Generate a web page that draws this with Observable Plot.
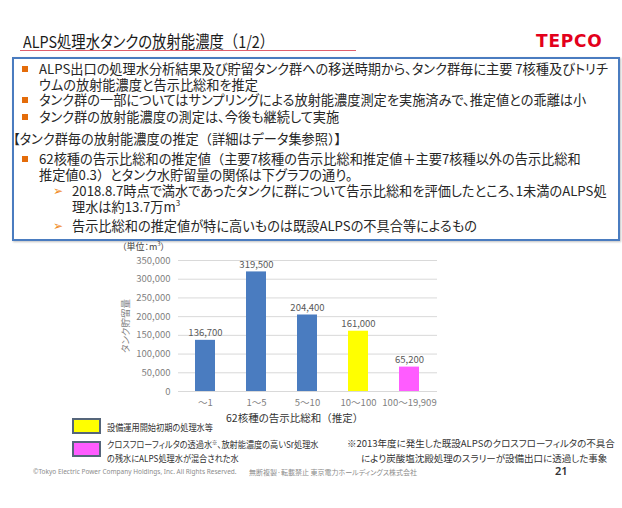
<!DOCTYPE html>
<html><head><meta charset="utf-8">
<script src="https://cdn.jsdelivr.net/npm/d3@7"></script>
<script src="https://cdn.jsdelivr.net/npm/@observablehq/plot@0.6"></script>
<style>
html,body{margin:0;padding:0;background:#fff;}
#page{position:relative;width:622px;height:508px;overflow:hidden;font-family:"Noto Sans CJK JP","Noto Sans",sans-serif;color:#262626;font-feature-settings:"palt" 1;}
.abs{position:absolute;white-space:nowrap;}
.ln{position:absolute;white-space:nowrap;font-size:13.2px;line-height:16px;height:16px;}
.fw{font-feature-settings:normal;}
.sq{position:absolute;width:6px;height:6px;background:#e46c0a;}
.arr{position:absolute;font-family:"DejaVu Sans",sans-serif;color:#f08a24;font-size:12px;line-height:16px;}
#chart{position:absolute;left:0;top:240px;}
.lg{position:absolute;width:25px;height:12px;border:2px solid #55657a;}
.cond{transform-origin:left center;transform:scaleX(0.86);}
</style></head><body><div id="page">
<div class="abs" style="left:23px;top:30px;font-size:16.5px;line-height:22px;color:#1a1a1a;transform-origin:left center;transform:scaleX(0.87);">ALPS処理水タンクの放射能濃度<span class="fw">（</span>1/2<span class="fw">）</span></div>
<div class="abs" style="left:20px;top:50px;width:336px;height:1px;background:#e0606e;"></div>
<div class="abs" style="left:536px;top:30px;font-family:'DejaVu Sans',sans-serif;font-weight:bold;font-size:17px;line-height:22px;color:#e3001b;letter-spacing:0.8px;">TEPCO</div>
<div class="abs" style="left:12px;top:57px;width:604px;height:180px;border:2px solid #4a7cc0;box-shadow:1px 1px 2px rgba(0,0,0,0.25);"></div>

<div class="sq" style="left:22px;top:66px;"></div>
<div class="ln" style="left:39px;top:61px;">ALPS出口の処理水分析結果及び貯留タンク群への移送時期から、タンク群毎に主要 7核種及びトリチ</div>
<div class="ln" style="left:39px;top:77px;">ウムの放射能濃度と告示比総和を推定</div>
<div class="sq" style="left:22px;top:97px;"></div>
<div class="ln" style="left:39px;top:92px;">タンク群の一部についてはサンプリングによる放射能濃度測定を実施済みで、推定値との乖離は小</div>
<div class="sq" style="left:22px;top:114px;"></div>
<div class="ln" style="left:39px;top:109px;">タンク群の放射能濃度の測定は、今後も継続して実施</div>
<div class="ln" style="left:13px;top:131px;">【タンク群毎の放射能濃度の推定<span class="fw">（</span>詳細はデータ集参照<span class="fw">）</span>】</div>
<div class="sq" style="left:22px;top:156px;"></div>
<div class="ln" style="left:39px;top:151px;">62核種の告示比総和の推定値<span class="fw">（</span>主要7核種の告示比総和推定値＋主要7核種以外の告示比総和</div>
<div class="ln" style="left:39px;top:167px;">推定値0.3<span class="fw">）</span>とタンク水貯留量の関係は下グラフの通り。</div>
<div class="arr" style="left:53px;top:183px;">➢</div>
<div class="ln" style="left:72px;top:183px;">2018.8.7時点で満水であったタンクに群について告示比総和を評価したところ、1未満のALPS処</div>
<div class="ln" style="left:72px;top:199px;">理水は約13.7万m<sup style="font-size:8px;vertical-align:6px;line-height:0;">3</sup></div>
<div class="arr" style="left:53px;top:218px;">➢</div>
<div class="ln" style="left:72px;top:218px;">告示比総和の推定値が特に高いものは既設ALPSの不具合等によるもの</div>

<div class="abs" style="left:122px;top:241px;font-size:9px;line-height:12px;color:#404040;">（単位：m<sup style="font-size:6px;vertical-align:4px;line-height:0;">3</sup>）</div>
<div id="chart"></div>
<div class="abs" style="left:226px;top:412px;font-size:10.5px;line-height:12px;color:#333;">62核種の告示比総和<span class="fw">（</span>推定<span class="fw">）</span></div>

<div class="lg" style="left:72px;top:418px;background:#ffff00;"></div>
<div class="abs cond" style="left:107px;top:421px;font-size:9.5px;line-height:13px;color:#333;">設備運用開始初期の処理水等</div>
<div class="lg" style="left:72px;top:441px;background:#ff5cff;"></div>
<div class="abs cond" style="left:107px;top:436px;font-size:9.5px;line-height:14px;color:#333;">クロスフローフィルタの透過水<span style="font-size:6px;vertical-align:3px;">※</span>、放射能濃度の高いSr処理水</div>
<div class="abs cond" style="left:107px;top:451px;font-size:9.5px;line-height:14px;color:#333;">の残水にALPS処理水が混合された水</div>
<div class="abs" style="left:347px;top:436px;font-size:9.5px;line-height:14px;color:#333;">※2013年度に発生した既設ALPSのクロスフローフィルタの不具合</div>
<div class="abs" style="left:361px;top:451px;font-size:9.5px;line-height:14px;color:#333;">により炭酸塩沈殿処理のスラリーが設備出口に透過した事象</div>

<div class="abs" style="left:33px;top:467px;font-size:6.5px;line-height:10px;color:#8c8c8c;font-family:'Noto Sans',sans-serif;">©Tokyo Electric Power Company Holdings, Inc. All Rights Reserved.</div>
<div class="abs" style="left:249px;top:467px;font-size:7px;line-height:10px;color:#8c8c8c;">無断複製·転載禁止 東京電力ホールディングス株式会社</div>
<div class="abs" style="left:555px;top:464px;font-size:11px;line-height:14px;color:#333;font-weight:600;font-family:'Noto Sans',sans-serif;">21</div>
</div>
<script>
const categories = ["～1", "1～5", "5～10", "10～100", "100～19,909"];
const volumes = [136700, 319500, 204400, 161000, 65200];
const groups = ["既設", "設備運用開始初期の処理水等", "クロスフローフィルタの透過水等"];
const barGroup = ["既設", "既設", "既設", "設備運用開始初期の処理水等", "クロスフローフィルタの透過水等"];
const yTicks = [0, 50000, 100000, 150000, 200000, 250000, 300000, 350000];

const data = categories.map((c, i) => ({cat: c, value: volumes[i], group: barGroup[i]}));
const fmt = d3.format(",");

const chart = Plot.plot({
  width: 622,
  height: 180,
  marginLeft: 178,
  marginRight: 185,
  marginTop: 20,
  marginBottom: 29,
  style: {fontFamily: '"Noto Sans CJK JP", sans-serif', fontSize: "9.5px", color: "#7f7f7f", background: "transparent"},
  x: {domain: categories, paddingInner: 0.6, paddingOuter: 0.3, label: null},
  y: {domain: [0, 350000], label: null},
  color: {domain: groups, range: ["#4a7cc0", "#ffff00", "#ff5cff"]},
  marks: [
    Plot.gridY(yTicks, {stroke: "#d9d9d9", strokeOpacity: 1}),
    Plot.barY(data, {x: "cat", y: "value", fill: "group"}),
    Plot.text(data, {x: "cat", y: "value", text: d => fmt(d.value), dy: -7, fill: "#595959", fontSize: 9.5}),
    Plot.axisY({ticks: yTicks, tickSize: 0, tickPadding: 8, tickFormat: fmt, label: "タンク貯留量", labelAnchor: "center", labelArrow: "none", labelOffset: 56, fill: "#7f7f7f"}),
    Plot.axisX({tickSize: 0, tickPadding: 8, label: null, fill: "#7f7f7f"})
  ]
});
document.getElementById("chart").appendChild(chart);
</script>
</body></html>
